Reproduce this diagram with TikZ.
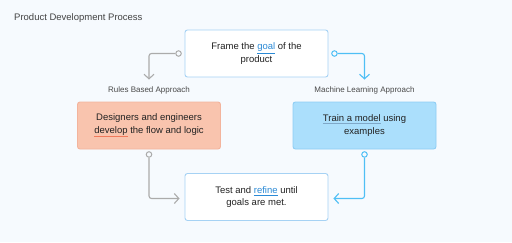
\documentclass[tikz,border=0pt]{standalone}
\usepackage{fontspec}
\setmainfont{Liberation Sans}
\usetikzlibrary{arrows.meta,calc}

\definecolor{bg}{HTML}{F6FAFE}
\definecolor{ink}{HTML}{222222}
\definecolor{labelink}{HTML}{4A4A4A}
\definecolor{linkblue}{HTML}{2B8AD6}
\definecolor{plainedge}{HTML}{A6D2F4}
\definecolor{salmonfill}{HTML}{F9C4AE}
\definecolor{salmonedge}{HTML}{F3B49D}
\definecolor{skyfill}{HTML}{ABDFFC}
\definecolor{skyedge}{HTML}{8ECDF4}
\definecolor{grayline}{HTML}{ABABAB}
\definecolor{blueline}{HTML}{4FBFF5}
\definecolor{spellred}{HTML}{F07A5C}
\definecolor{grammarblue}{HTML}{7FA8C8}

% highlighted word with its underline
\newcommand\linkword[1]{\textcolor{linkblue}{\underline{#1}}}
\newcommand\markedword[2]{{\color{#1}\underline{\color{ink}#2}}}

\begin{document}
\begin{tikzpicture}[x=1pt,y=-1pt,
  box/.style={draw, rounded corners=2.5pt, line width=0.9pt,
    minimum width=143pt, minimum height=47pt, inner sep=0pt,
    align=center, text=ink, font=\fontsize{9.5}{12.5}\selectfont},
  plainbox/.style={box, draw=plainedge, fill=white},
  rulesbox/.style={box, draw=salmonedge, fill=salmonfill},
  mlbox/.style={box, draw=skyedge, fill=skyfill},
  approach/.style={text=labelink, font=\fontsize{8}{10}\selectfont, inner sep=0pt},
  link/.style={line width=1.1pt, rounded corners=2.5pt,
    -{Straight Barb[length=4.5pt,width=10pt]}},
  dot/.style={circle, draw, line width=1pt, fill=bg, minimum size=5.5pt, inner sep=0pt},
]
\useasboundingbox (0,0) rectangle (512,242);
\fill[bg] (0,0) rectangle (512,242);

% title
\node[anchor=west, text=ink!85, font=\fontsize{9.5}{12}\selectfont, inner sep=0pt]
  (title) at (14,18) {Product Development Process};

% process steps
\node[plainbox] (frame) at (256.5,53.5) {Frame the \linkword{goal} of the\\product};
\node[rulesbox] (rules) at (149,125.5)
  {Designers and engineers\\\markedword{spellred}{develop} the flow and logic};
\node[mlbox] (train) at (364.5,125.5)
  {\markedword{grammarblue}{Train a model} using\\examples};
\node[plainbox] (test) at (256.5,197) {Test and \linkword{refine} until\\goals are met.};

% approach labels
\node[approach] (rulesLbl) at (149,90) {Rules Based Approach};
\node[approach] (mlLbl) at (364.5,90) {Machine Learning Approach};

% connector end points
\coordinate (e1) at ($(rulesLbl.center)+(0,-10.5)$);
\coordinate (e2) at ($(mlLbl.center)+(0,-10.5)$);
\coordinate (e3) at ($(test.west)+(-5,1.5)$);
\coordinate (e4) at ($(test.east)+(5,1.5)$);

% connector start dots
\node[dot, draw=grayline] (d1) at ($(frame.west)+(-6,0)$) {};
\node[dot, draw=blueline] (d2) at ($(frame.east)+(6,0)$) {};
\node[dot, draw=grayline] (d3) at ($(rules.south)+(0,5)$) {};
\node[dot, draw=blueline] (d4) at ($(train.south)+(0,5)$) {};

% connectors
\draw[link, grayline] (d1) -| (e1);
\draw[link, blueline] (d2) -| (e2);
\draw[link, grayline] (d3) |- (e3);
\draw[link, blueline] (d4) |- (e4);
\end{tikzpicture}
\end{document}
